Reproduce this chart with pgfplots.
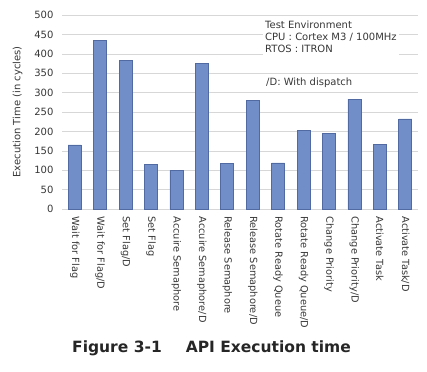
\documentclass[border=0pt]{standalone}
\usepackage{pgfplots}
\pgfplotsset{compat=1.18}
\usepackage{fontspec}
\setmainfont{DejaVu Sans}
\definecolor{barfill}{RGB}{114,142,200}
\definecolor{baredge}{RGB}{82,106,162}
\definecolor{gridc}{RGB}{215,215,215}
\definecolor{txt}{RGB}{55,55,55}
\begin{document}
\begin{tikzpicture}
\path[use as bounding box] (-62pt,-162pt) rectangle (365pt,209pt);
\begin{axis}[
  at={(0pt,0pt)}, anchor=south west,
  scale only axis, width=356pt, height=194pt,
  ymin=0, ymax=500, ytick distance=50,
  xmin=-0.5, xmax=13.5,
  xtick=data,
  xticklabels={Wait for Flag,Wait for Flag/D,Set Flag/D,Set Flag,Accuire Semaphore,Accuire Semaphore/D,Release Semaphore,Release Semaphore/D,Rotate Ready Queue,Rotate Ready Queue/D,Change Priority,Change Priority/D,Activate Task,Activate Task/D},
  x tick label style={rotate=-90, anchor=west, font=\fontsize{9.8}{11}\selectfont, text=txt, xshift=4pt},
  y tick label style={font=\fontsize{10}{11}\selectfont, text=txt, xshift=-5pt},
  /pgf/number format/assume math mode=true,
  ylabel={Execution Time (in cycles)},
  ylabel style={font=\fontsize{10}{11}\selectfont, text=txt},
  ylabel shift=5pt,
  ymajorgrids, grid style={gridc, line width=0.6pt},
  axis line style={draw=none},
  major tick length=0pt,
  ybar, bar width=13pt,
  clip=false,
]
\addplot[draw=baredge, fill=barfill, line width=0.6pt] coordinates {
(0,165) (1,435) (2,383) (3,114) (4,100) (5,375) (6,117) (7,280) (8,119) (9,203) (10,195) (11,283) (12,166) (13,232)};
\end{axis}
\node[fill=white, anchor=north west, inner sep=2pt, align=left, text=txt, font=\fontsize{10}{11.8}\selectfont] at (201pt,190pt) {Test Environment\\CPU : Cortex M3 / 100MHz\\RTOS : ITRON};
\node[anchor=west, inner sep=0pt, text=txt, font=\fontsize{10}{11}\selectfont] at (204pt,126pt) {/D: With dispatch};
\node[anchor=west, inner sep=0pt, text=black!85, font=\bfseries\fontsize{15.5}{17}\selectfont] at (10pt,-139pt) {Figure 3-1\hspace{1.55em}API Execution time};
\end{tikzpicture}
\end{document}
